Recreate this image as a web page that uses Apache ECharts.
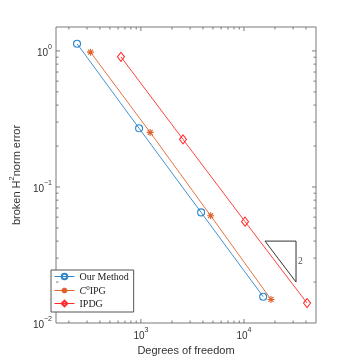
<!DOCTYPE html>
<html><head><meta charset="utf-8">
<script src="https://cdn.jsdelivr.net/npm/echarts@6/dist/echarts.min.js"></script>
<style>html,body{margin:0;padding:0;background:#fff}#c{width:349px;height:363px}</style>
</head><body><div id="c"></div>
<script>
// ---- data ----
const seriesNames = ['Our Method', 'C0IPG', 'IPDG'];
const oursDof = [240, 960, 3840, 15360];
const oursErr = [1.13, 0.27, 0.065, 0.0156];
const c0ipgDof = [324, 1230, 4750, 18300];
const c0ipgErr = [0.98, 0.252, 0.0615, 0.0149];
const ipdgDof = [640, 2560, 10240, 40960];
const ipdgErr = [0.905, 0.224, 0.0556, 0.0140];
const slopeX = [16000, 32000];
const slopeY = [0.04, 0.02];
const slopeLabel = '2';
const xRange = [150, 50000];
const yRange = [0.01, 1.5];
const xLabelName = 'Degrees of freedom';
const yLabelName = ['broken H', '2', 'norm error'];

const colBlue = '#2e86cc', colOrange = '#e0622c', colRed = '#ff2b2b';
const axisCol = '#7a7a7a', txtCol = '#333';

function pairs(xs, ys) { return xs.map((x, i) => [x, ys[i]]); }
function decadeTicks(lo, hi) {
  const out = [];
  for (let e = Math.floor(Math.log10(lo)); e <= Math.ceil(Math.log10(hi)); e++) {
    for (let m = 1; m <= 9; m++) {
      const v = m * Math.pow(10, e);
      if (v > lo * 1.0001 && v < hi * 0.9999) out.push([v, m === 1 ? 1 : 0]);
    }
  }
  return out;
}
const xTicks = decadeTicks(xRange[0], xRange[1]);
const yTicks = decadeTicks(yRange[0], yRange[1]);

function supFmt(v) {
  const e = Math.round(Math.log10(v));
  return '{b|10}{s|' + (e < 0 ? '\u2212' + (-e) : e) + '}';
}
const supRich = {
  b: { fontSize: 10, color: txtCol, fontFamily: 'Liberation Sans', lineHeight: 14, verticalAlign: 'bottom' },
  s: { fontSize: 7, color: txtCol, fontFamily: 'Liberation Sans', lineHeight: 14, verticalAlign: 'top' }
};

const chart = echarts.init(document.getElementById('c'), null, { renderer: 'canvas' });
const majorLen = 4, minorLen = 2.5;

const option = {
  animation: false,
  grid: { left: 45, right: 33, top: 27, bottom: 40, show: true, borderColor: axisCol, borderWidth: 1, backgroundColor: '#fff' },
  xAxis: {
    type: 'log', logBase: 10, min: xRange[0], max: xRange[1],
    axisLine: { show: false }, axisTick: { show: false }, splitLine: { show: false }, minorTick: { show: false },
    axisLabel: { showMinLabel: false, showMaxLabel: false, margin: 4, formatter: supFmt, rich: supRich },
    name: xLabelName, nameLocation: 'middle', nameGap: 19,
    nameTextStyle: { fontSize: 11, color: txtCol, fontFamily: 'Liberation Sans' }
  },
  yAxis: {
    type: 'log', logBase: 10, min: yRange[0], max: yRange[1],
    axisLine: { show: false }, axisTick: { show: false }, splitLine: { show: false }, minorTick: { show: false },
    axisLabel: { showMaxLabel: false, margin: 4, formatter: supFmt, rich: supRich },
    name: '{t|' + yLabelName[0] + '}{s|' + yLabelName[1] + '}{t|' + yLabelName[2] + '}',
    nameLocation: 'middle', nameGap: 23, nameRotate: 90,
    nameTextStyle: {
      rich: {
        t: { fontSize: 11, color: txtCol, fontFamily: 'Liberation Sans', lineHeight: 14, verticalAlign: 'bottom' },
        s: { fontSize: 7.5, color: txtCol, fontFamily: 'Liberation Sans', lineHeight: 14, verticalAlign: 'top' }
      }
    }
  },
  legend: {
    orient: 'vertical', left: 51, top: 270,
    padding: [2, 5, 3, 3], itemGap: 3, itemWidth: 20, itemHeight: 7,
    backgroundColor: '#fff', borderColor: '#555', borderWidth: 1, borderRadius: 0,
    lineStyle: { width: 1 },
    data: seriesNames,
    formatter: function (n) {
      if (n === 'C0IPG') return '{i|C}{s|0}{r|IPG}';
      return '{r|' + n + '}';
    },
    textStyle: {
      rich: {
        r: { fontFamily: 'Liberation Serif', fontSize: 10, color: '#222', lineHeight: 11, verticalAlign: 'bottom' },
        i: { fontFamily: 'Liberation Serif', fontStyle: 'italic', fontSize: 10, color: '#222', lineHeight: 11, verticalAlign: 'bottom' },
        s: { fontFamily: 'Liberation Serif', fontSize: 7, color: '#222', lineHeight: 11, verticalAlign: 'top' }
      }
    }
  },
  series: [
    {
      name: seriesNames[0], type: 'line', data: pairs(oursDof, oursErr),
      symbol: 'circle', symbolSize: 7,
      lineStyle: { color: colBlue, width: 0.9 },
      itemStyle: { color: 'rgba(255,255,255,0)', borderColor: colBlue, borderWidth: 1.1 },
      z: 3
    },
    {
      name: seriesNames[1], type: 'line', data: pairs(c0ipgDof, c0ipgErr),
      symbol: 'path://M0,-5L0,5M-5,0L5,0M-3.6,-3.6L3.6,3.6M-3.6,3.6L3.6,-3.6', symbolSize: 7,
      lineStyle: { color: colOrange, width: 0.9 },
      itemStyle: { color: 'rgba(255,255,255,0)', borderColor: colOrange, borderWidth: 1.1 },
      z: 3
    },
    {
      name: seriesNames[2], type: 'line', data: pairs(ipdgDof, ipdgErr),
      symbol: 'diamond', symbolSize: [7, 9],
      lineStyle: { color: colRed, width: 0.9 },
      itemStyle: { color: 'rgba(255,255,255,0)', borderColor: colRed, borderWidth: 1.1 },
      z: 3
    },
    {
      name: 'slope', type: 'line', silent: true,
      data: [[slopeX[0], slopeY[0]], [slopeX[1], slopeY[0]], [slopeX[1], slopeY[1]], [slopeX[0], slopeY[0]]],
      symbol: 'none', lineStyle: { color: '#333', width: 1 }, z: 2
    },
    {
      name: 'slopeLabel', type: 'scatter', silent: true,
      data: [[slopeX[1], Math.sqrt(slopeY[0] * slopeY[1])]],
      symbolSize: 0,
      label: { show: true, position: 'right', distance: 2, formatter: slopeLabel, fontFamily: 'Liberation Serif', fontSize: 9.5, color: '#222' }
    },
    {
      name: 'xticks', type: 'custom', silent: true, data: xTicks, z: 4,
      renderItem: function (params, api) {
        const cs = params.coordSys;
        const x = api.coord([api.value(0), yRange[0]])[0];
        const len = api.value(1) ? majorLen : minorLen;
        const yb = cs.y + cs.height, yt = cs.y;
        const st = { stroke: axisCol, lineWidth: 1 };
        return { type: 'group', children: [
          { type: 'line', shape: { x1: x, y1: yb, x2: x, y2: yb - len }, style: st },
          { type: 'line', shape: { x1: x, y1: yt, x2: x, y2: yt + len }, style: st }
        ] };
      }
    },
    {
      name: 'yticks', type: 'custom', silent: true, data: yTicks.map(t => [xRange[0], t[0], t[1]]), z: 4,
      renderItem: function (params, api) {
        const cs = params.coordSys;
        const y = api.coord([xRange[0], api.value(1)])[1];
        const len = api.value(2) ? majorLen : minorLen;
        const xl = cs.x, xr = cs.x + cs.width;
        const st = { stroke: axisCol, lineWidth: 1 };
        return { type: 'group', children: [
          { type: 'line', shape: { x1: xl, y1: y, x2: xl + len, y2: y }, style: st },
          { type: 'line', shape: { x1: xr, y1: y, x2: xr - len, y2: y }, style: st }
        ] };
      }
    }
  ]
};
chart.setOption(option);
</script>
</body></html>
